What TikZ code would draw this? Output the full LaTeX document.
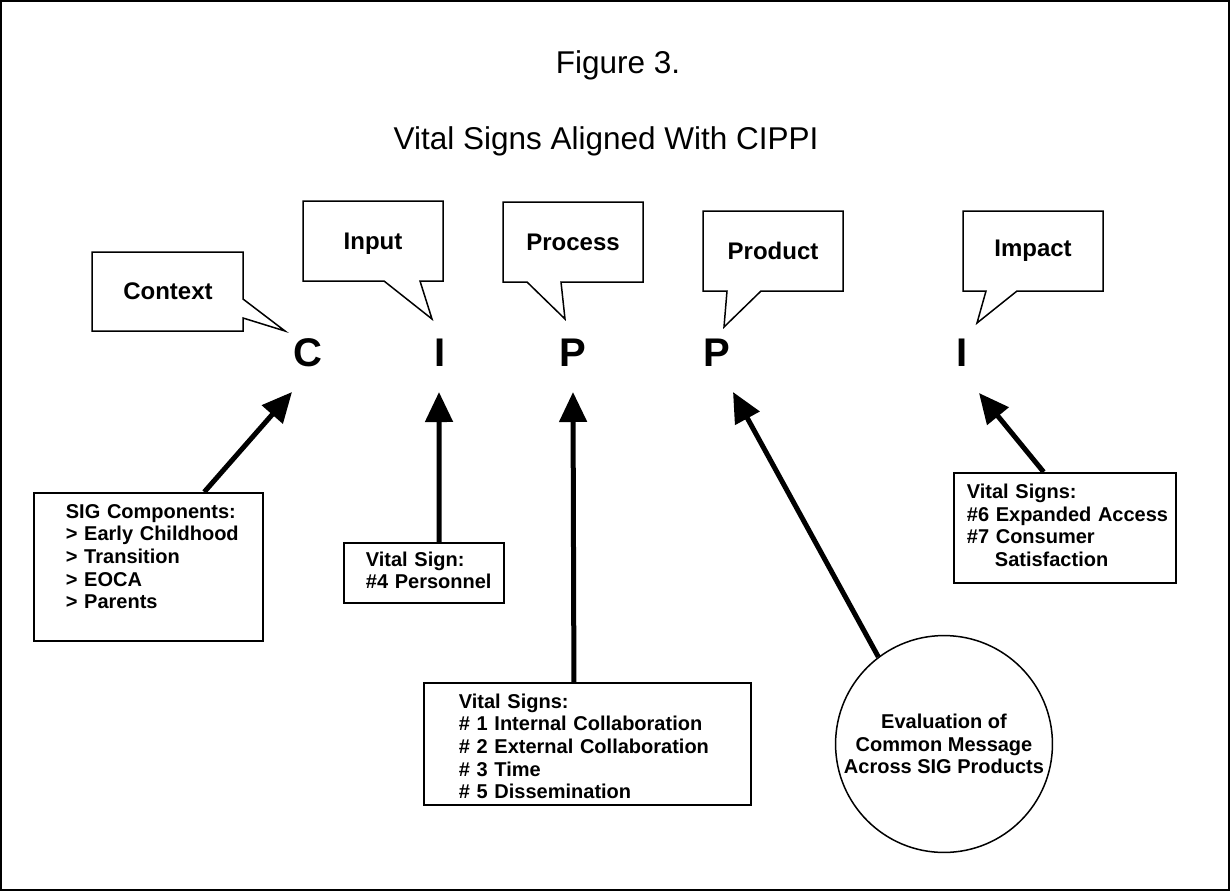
\documentclass[tikz,border=0pt]{standalone}
\usepackage{fontspec}
\setmainfont{Liberation Sans}
\usetikzlibrary{arrows.meta,calc}

\begin{document}
\begin{tikzpicture}[x=1pt, y=-1pt,
	callout/.style={draw=black, line width=1.5pt, line join=miter},
	calltext/.style={font=\bfseries\fontsize{24}{28}\selectfont},
	letter/.style={font=\bfseries\fontsize{40}{44}\selectfont, anchor=base},
	signbox/.style={draw=black, line width=1.8pt, anchor=north west, align=left, inner ysep=0pt, font=\bfseries\fontsize{20}{22.7}\selectfont},
	bigarrow/.style={line width=5pt, -{Triangle[length=30pt,width=27pt]}}]
	\useasboundingbox (0,0) rectangle (1230,891);
	\draw[line width=1.5pt] (1,1) rectangle (1229,890);
	% title
	\node[font=\fontsize{31.5}{36}\selectfont, anchor=base] at (618,73)(fig){Figure 3.};
	\node[font=\fontsize{31.5}{36}\selectfont, anchor=base] at (606,149)(title){Vital Signs Aligned With CIPPI};
	% callouts
	\draw[callout] (92,252) -- (243,252) -- (243,299) -- (285,331) -- (243,318) -- (243,331) -- (92,331) -- cycle;
	\node[calltext] at (168,291)(context){Context};
	\draw[callout] (303,201) -- (443,201) -- (443,281) -- (420,281) -- (432,319) -- (384,281) -- (303,281) -- cycle;
	\node[calltext] at (373,244)(input){Input};
	\draw[callout] (503,202) -- (643,202) -- (643,282) -- (561,282) -- (565,319) -- (527,282) -- (503,282) -- cycle;
	\node[calltext] at (573,242)(process){Process};
	\draw[callout] (703,211) -- (843,211) -- (843,291) -- (761,291) -- (724,327) -- (727,291) -- (703,291) -- cycle;
	\node[calltext] at (773,251)(product){Product};
	\draw[callout] (963,211) -- (1103,211) -- (1103,291) -- (1017,291) -- (977,323) -- (986,291) -- (963,291) -- cycle;
	\node[calltext] at (1033,251)(impact){Impact};
	% letters
	\node[letter] at (308,366)(letC){C};
	\node[letter] at (440,366)(letI){I};
	\node[letter] at (573,366)(letP){P};
	\node[letter] at (717,366)(letPP){P};
	\node[letter] at (962,366)(letII){I};
	\coordinate (tipC) at (292,392);
	\coordinate (tipI) at (439,392);
	\coordinate (tipP) at (573,392);
	\coordinate (tipPP) at (733,392);
	\coordinate (tipII) at (979,393);
	% boxes
	\node[signbox, minimum width=229pt, text width=165pt, inner xsep=32pt, minimum height=148pt] at (33,492)(sig){\raisebox{8pt}[\height][\depth]{\begin{tabular}{@{}l@{}}SIG Components:\\ > Early Childhood\\ > Transition\\ > EOCA\\ > Parents\end{tabular}}};
	\node[signbox, minimum width=160pt, text width=116pt, inner xsep=22pt, minimum height=60pt] at (343,542)(pers){\begin{tabular}{@{}l@{}}Vital Sign:\\ \#4 Personnel\end{tabular}};
	\node[signbox, minimum width=327pt, text width=257pt, inner xsep=35pt, minimum height=122pt] at (423,682)(proc){\raisebox{-5pt}[\height][\depth]{\begin{tabular}{@{}l@{}}Vital Signs:\\ \# 1 Internal Collaboration\\ \# 2 External Collaboration\\ \# 3 Time\\ \# 5 Dissemination\end{tabular}}};
	\node[signbox, minimum width=222pt, text width=196pt, inner xsep=13pt, minimum height=110pt] at (953,472)(imp){\begin{tabular}{@{}l@{}}Vital Signs:\\ \#6 Expanded Access\\ \#7 Consumer\\ \hspace*{28pt}Satisfaction\end{tabular}};
	\node[circle, draw=black, line width=1.5pt, minimum size=216pt, align=center, font=\bfseries\fontsize{20}{22.7}\selectfont] at (944,744)(eval){Evaluation of\\ Common Message\\ Across SIG Products};
	% arrows
	\draw[bigarrow] ($(sig.north west)!0.742!(sig.north east)$) -- (tipC);
	\draw[bigarrow] ($(pers.north west)!0.594!(pers.north east)$) -- (tipI);
	\draw[bigarrow] ($(proc.north west)!0.459!(proc.north east)$) -- (tipP);
	\draw[bigarrow] (eval.127) -- (tipPP);
	\draw[bigarrow] ($(imp.north west)!0.405!(imp.north east)$) -- (tipII);
\end{tikzpicture}
\end{document}
